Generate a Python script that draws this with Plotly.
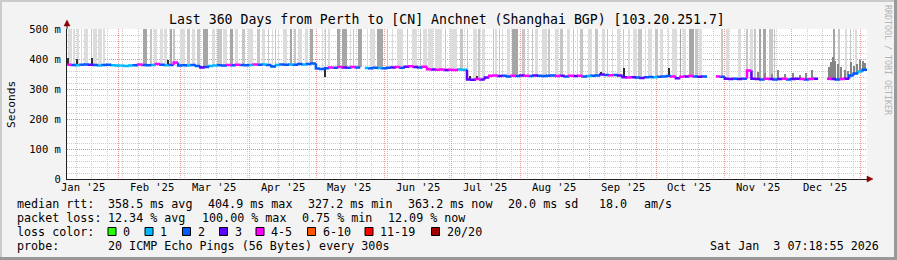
import plotly.graph_objects as go
from datetime import datetime, timedelta

# ---------------- data ----------------
title_text = "Last 360 Days from Perth to [CN] Anchnet (Shanghai BGP) [103.20.251.7]"
month_labels = ["Jan '25", "Feb '25", "Mar '25", "Apr '25", "May '25", "Jun '25",
                "Jul '25", "Aug '25", "Sep '25", "Oct '25", "Nov '25", "Dec '25"]
month_starts = ["2025-01-01", "2025-02-01", "2025-03-01", "2025-04-01", "2025-05-01", "2025-06-01",
                "2025-07-01", "2025-08-01", "2025-09-01", "2025-10-01", "2025-11-01", "2025-12-01"]
y_tick_values = [0, 100, 200, 300, 400, 500]
y_tick_labels = ["0", "100 m", "200 m", "300 m", "400 m", "500 m"]

# median rtt (ms) per 2-day bin, 180 bins (None = no data)
median_ms = [
    381, 380, 379, 381, 382, 381, 380, 378, 380, 381,
    379, 378, 378, 377, 378, 379, 382, 380, 379, 380,
    383, 381, 379, 380, 388, 378, 379, 378, 380, 377,
    372, 373, 377, 378, 379, 378, 380, 379, 381, 380,
    379, 380, 382, 381, 382, 380, 375, 380, 382, 381,
    382, 381, 383, 382, 383, 385, 368, 367, 369, 372,
    371, 373, 372, 371, 373, 372, None, 370, 369, 371,
    370, 369, 371, 372, 373, 371, 374, 376, 373, 372,
    374, 366, 365, 364, 365, 363, 364, 363, 365, 364,
    332, 331, 333, 332, 338, 344, 345, 343, 344, 342,
    344, 343, 345, 344, 343, 345, 344, 343, 344, 345,
    343, 344, 342, 344, 343, 344, 342, 343, 344, 345,
    348, 347, 346, 347, 345, 339, 338, 339, 338, 337,
    339, 340, 339, 341, 342, 343, 342, 336, 341, 342,
    343, 342, 341, 342, None, None, 342, 341, 334, 333,
    334, 333, 334, 362, 334, 333, 332, 334, 333, 332,
    333, 334, 332, 333, 334, 333, 332, 333, 334, None,
    None, 334, 333, 332, 333, 334, 345, 352, 358, 364,
]
# loss colour index per bin (0:0, 1:1, 2:2, 3:3, 4:4-5, 5:6-10, 6:11-19, 7:20/20)
loss_code = [
    4, 2, 1, 2, 2, 3, 2, 1, 2, 2,
    1, 1, 1, 1, 1, 2, 4, 2, 2, 1,
    4, 2, 1, 2, 4, 2, 2, 1, 2, 2,
    3, 2, 1, 1, 2, 2, 4, 2, 4, 2,
    2, 1, 4, 2, 1, 2, 2, 1, 2, 2,
    1, 2, 2, 1, 2, 2, 2, 2, 2, 4,
    2, 4, 3, 2, 4, 2, 2, 1, 2, 2,
    1, 2, 2, 3, 4, 2, 3, 4, 3, 2,
    4, 4, 3, 4, 4, 3, 4, 4, 1, 1,
    3, 3, 4, 3, 3, 4, 4, 3, 2, 2,
    4, 2, 3, 4, 2, 3, 2, 2, 2, 2,
    4, 3, 2, 4, 3, 4, 2, 1, 2, 2,
    3, 2, 4, 2, 3, 3, 4, 3, 2, 3,
    2, 2, 1, 2, 2, 2, 4, 3, 4, 3,
    4, 2, 3, 2, 2, 2, 4, 2, 3, 3,
    2, 3, 2, 4, 3, 3, 2, 4, 3, 2,
    3, 4, 2, 3, 3, 4, 2, 4, 3, 2,
    2, 4, 3, 2, 4, 3, 2, 2, 1, 2,
]
loss_colors = ["#26ff00", "#00b8ff", "#0059ff", "#5e00ff", "#ff00ff", "#ff5500", "#ff0000", "#a00000"]
loss_labels = ["0", "1", "2", "3", "4-5", "6-10", "11-19", "20/20"]

# smoke reaching above 500 ms: start day, end day, shade (1 light .. 3 dark)
smoke_start = [0.45, 2.7, 4.5, 6.3, 7.65, 10.8, 11.7, 14.0, 16.2,
               34.2, 37.4, 39.2, 41.9, 43.65, 46.35, 47.7,
               50.9, 54.0, 56.25, 58.5, 61.2, 65.25, 67.5, 70.2, 73.35, 75.6, 78.75, 81.45, 85.5,
               87.75, 90.45, 92.25, 93.6, 94.95, 97.2, 100.35, 102.6, 104.0, 107.1, 109.35, 114.75, 116.1,
               117.45, 121.5, 123.75, 127.35, 128.7, 130.95, 135.0, 136.35, 139.5, 144.0, 146.25, 148.5,
               153.0, 155.25, 158.85, 160.2, 162.45, 165.6, 170.1, 172.35, 176.85,
               180.0, 182.7, 184.95, 186.75, 191.7, 193.0, 194.4, 195.75, 198.0, 200.25, 204.75, 207.45,
               209.25, 210.6, 213.75, 216.45, 219.6, 221.85, 225.0, 227.7, 229.5, 230.85, 234.45, 237.6,
               240.75, 243.0, 245.25, 247.5, 250.2, 252.45, 254.7, 257.0, 260.1, 261.45, 264.6, 266.85,
               270.45, 272.25, 275.85, 277.2, 279.9, 283.0, 284.4, 294.3, 296.5, 301.95, 305.55, 307.35,
               309.6, 311.4, 313.2, 315.9, 318.15, 344.7, 347.0, 350.1, 352.35, 354.6]
smoke_end = [2.25, 3.6, 5.0, 6.75, 9.45, 11.25, 13.5, 15.75, 17.1,
             36.0, 38.25, 40.5, 43.2, 45.0, 47.25, 48.6,
             53.1, 55.35, 57.6, 59.85, 63.45, 66.6, 69.75, 72.0, 74.7, 76.95, 80.1, 83.7, 86.85,
             89.1, 90.9, 92.7, 94.05, 95.4, 99.0, 101.25, 103.0, 105.75, 108.45, 110.7, 115.2, 116.55,
             118.35, 122.85, 126.0, 127.8, 129.15, 132.75, 135.45, 138.6, 142.2, 144.45, 146.7, 151.2,
             153.45, 157.5, 159.3, 162.0, 164.7, 168.75, 170.55, 175.5, 178.2,
             180.45, 184.5, 185.85, 188.1, 192.15, 193.5, 194.85, 196.2, 199.35, 202.95, 206.1, 207.9,
             209.7, 211.95, 216.0, 217.35, 220.95, 223.2, 226.35, 228.15, 229.95, 232.2, 236.25, 238.95,
             242.1, 243.45, 245.7, 248.85, 250.65, 253.35, 256.5, 258.75, 260.55, 263.25, 266.0, 268.2,
             270.9, 274.5, 276.3, 278.55, 282.15, 283.85, 285.75, 295.2, 297.9, 303.3, 306.45, 308.7,
             310.0, 312.3, 314.55, 317.7, 318.6, 345.6, 347.85, 351.0, 352.8, 355.5]
smoke_shade = [1, 1, 1, 1, 1, 2, 1, 1, 1,
               3, 2, 1, 1, 1, 3, 2,
               1, 2, 1, 2, 3, 1, 2, 1, 3, 1, 2, 1, 2,
               1, 2, 1, 2, 1, 1, 3, 2, 1, 1, 3, 1, 2,
               1, 3, 3, 1, 2, 3, 1, 1, 3, 2, 1, 1,
               2, 1, 2, 1, 1, 1, 2, 1, 2,
               2, 1, 2, 1, 2, 1, 2, 1, 1, 3, 2, 1,
               2, 1, 1, 2, 1, 2, 1, 2, 1, 2, 1, 2,
               1, 2, 1, 1, 2, 1, 1, 2, 1, 1, 2, 1,
               1, 1, 3, 1, 3, 2, 1, 2, 1, 1, 2, 1,
               2, 3, 3, 2, 2, 3, 2, 1, 2, 1]
smoke_colors = {1: "#dcdcdc", 2: "#c6c6c6", 3: "#a6a6a6"}

# dense smoke spikes near the median line: day, low ms, high ms
spike_day = [0.4, 4.5, 11.3, 45.5, 116.0, 181.5, 184.5, 240.5, 250.6, 270.7]
spike_low = [381, 381, 381, 379, 340, 332, 332, 348, 338, 343]
spike_high = [402, 400, 405, 398, 368, 345, 344, 358, 370, 370]

# Nov/Dec smoke just above the median: day, top ms
near_smoke_day = [311.0, 314.1, 317.3, 320.0, 323.1, 326.7, 329.9, 332.6, 335.3,
                  342.9, 343.8, 344.7, 345.6, 346.9, 348.3, 350.1, 351.5,
                  352.8, 354.2, 355.5, 356.9, 358.2, 359.1]
near_smoke_top = [357, 352, 350, 363, 350, 353, 348, 352, 363,
                  375, 390, 407, 395, 384, 372, 365, 360,
                  390, 378, 383, 396, 392, 388]

stats_rtt = ["358.5 ms avg", "404.9 ms max", "327.2 ms min", "363.2 ms now", "20.0 ms sd", "18.0", "am/s"]
stats_loss = ["12.34 % avg", "100.00 % max", "0.75 % min", "12.09 % now"]
probe_text = "20 ICMP Echo Pings (56 Bytes) every 300s"
stamp_text = "Sat Jan  3 07:18:55 2026"

# ---------------- layout helpers ----------------
W, H = 897, 260
L, R, T, B = 67, 30, 29, 81
PW, PH = W - L - R, H - T - B
FONT = "DejaVu Sans Mono"

axis_start = datetime(2025, 1, 8, 21, 40)
axis_end = axis_start + timedelta(days=360)


def px_x(px):
    return (px - L) / PW


def px_y(py):
    return (H - B - py) / PH


def d2t(d):
    return axis_start + timedelta(days=d)


def nb(s):
    return s.replace(" ", "\u00a0")


def med_at(day):
    i = min(max(int(day // 2), 0), len(median_ms) - 1)
    return median_ms[i]


DAY_MS = 86400000
fig = go.Figure()

# smoke bars up to the top
sx, sb, sy, sw, sc = [], [], [], [], []
for a, b, s in zip(smoke_start, smoke_end, smoke_shade):
    base = med_at((a + b) / 2)
    if base is None:
        continue
    sx.append(d2t((a + b) / 2))
    sb.append(base)
    sy.append(500 - base)
    sw.append(max(b - a, 0.45) * DAY_MS)
    sc.append(smoke_colors[s])
fig.add_trace(go.Bar(x=sx, y=sy, base=sb, width=sw, marker=dict(color=sc, line=dict(width=0)),
                     hoverinfo="skip", showlegend=False))

# near-line smoke
nx, nbase, ny = [], [], []
for d, top in zip(near_smoke_day, near_smoke_top):
    base = med_at(d)
    if base is None:
        continue
    nx.append(d2t(d))
    nbase.append(base)
    ny.append(top - base)
fig.add_trace(go.Bar(x=nx, y=ny, base=nbase, width=0.9 * DAY_MS,
                     marker=dict(color="#858585", line=dict(width=0)), hoverinfo="skip", showlegend=False))

# dark spikes
fig.add_trace(go.Bar(x=[d2t(d) for d in spike_day], y=[h - l for l, h in zip(spike_low, spike_high)],
                     base=spike_low, width=0.5 * DAY_MS,
                     marker=dict(color="#303030", line=dict(width=0)), hoverinfo="skip", showlegend=False))

# median line, coloured by loss
segs = {c: ([], []) for c in range(len(loss_colors))}
prev = None
for i, (v, c) in enumerate(zip(median_ms, loss_code)):
    if v is None:
        prev = None
        continue
    t0, t1 = d2t(2 * i), d2t(2 * i + 2)
    xs, ys = segs[c]
    if prev is not None:
        xs += [t0, t0, t1, None]
        ys += [prev, v, v, None]
    else:
        xs += [t0, t1, None]
        ys += [v, v, None]
    prev = v
for c, (xs, ys) in segs.items():
    if xs:
        fig.add_trace(go.Scatter(x=xs, y=ys, mode="lines", line=dict(color=loss_colors[c], width=2.5),
                                 hoverinfo="skip", showlegend=False, connectgaps=False))

ann = []
shapes = []


def text(x, y, s, size=11.7, anchor="left", color="#000000", angle=0):
    ann.append(dict(x=px_x(x), y=px_y(y), xref="paper", yref="paper", text=nb(s), showarrow=False,
                    xanchor=anchor, yanchor="middle", textangle=angle, borderpad=0,
                    font=dict(family=FONT, size=size, color=color)))


# title
text(447, 19, title_text, size=13.2, anchor="center")
# y-axis title
text(11, 104, "Seconds", size=11.2, anchor="center", angle=-90)
# watermark
text(888, 60, "RRDTOOL / TOBI OETIKER", size=8.3, anchor="center", color="#b4b4b4", angle=90)

# month labels
for lab, ms in zip(month_labels, month_starts):
    mid = datetime.fromisoformat(ms) + timedelta(days=15)
    ann.append(dict(x=mid.isoformat(), y=px_y(187), xref="x", yref="paper", text=nb(lab), showarrow=False,
                    xanchor="center", yanchor="middle", borderpad=0,
                    font=dict(family=FONT, size=10.5, color="#000000")))

# legend rows
text(16, 204, "median rtt:")
for s, x in zip(stats_rtt, [107, 207, 307, 407, 507, 598, 643]):
    text(x, 204, s)
text(16, 218, "packet loss:")
for s, x in zip(stats_loss, [107, 200.5, 300.5, 386.5]):
    text(x, 218, s)
text(16, 232, "loss color:")
box_x = [108, 145, 182.5, 219.5, 256, 307.5, 365, 431.5]
for col, lab, bx in zip(loss_colors, loss_labels, box_x):
    shapes.append(dict(type="rect", xref="paper", yref="paper", x0=px_x(bx), x1=px_x(bx + 8),
                       y0=px_y(235.5), y1=px_y(227.5), fillcolor=col, line=dict(color="#000000", width=1)))
    text(bx + 14, 232, lab)
text(16, 246, "probe:")
text(107, 246, probe_text)
text(880, 246, stamp_text, anchor="right")

# frame shading
shapes += [
    dict(type="rect", xref="paper", yref="paper", x0=px_x(0), x1=px_x(W), y0=px_y(0), y1=px_y(2),
         fillcolor="#cbcbcb", line=dict(width=0), layer="below"),
    dict(type="rect", xref="paper", yref="paper", x0=px_x(0), x1=px_x(2), y0=px_y(0), y1=px_y(H),
         fillcolor="#cbcbcb", line=dict(width=0), layer="below"),
    dict(type="rect", xref="paper", yref="paper", x0=px_x(0), x1=px_x(W), y0=px_y(257), y1=px_y(H),
         fillcolor="#999999", line=dict(width=0), layer="below"),
    dict(type="rect", xref="paper", yref="paper", x0=px_x(894), x1=px_x(W), y0=px_y(0), y1=px_y(H),
         fillcolor="#999999", line=dict(width=0), layer="below"),
]
# axis extensions and arrows
shapes += [
    dict(type="line", xref="paper", yref="paper", x0=px_x(67), x1=px_x(67), y0=px_y(29), y1=px_y(24),
         line=dict(color="#202020", width=1)),
    dict(type="path", xref="paper", yref="paper",
         path=f"M {px_x(64)} {px_y(26)} L {px_x(70)} {px_y(26)} L {px_x(67)} {px_y(20)} Z",
         fillcolor="#8b0000", line=dict(color="#8b0000", width=0.5)),
    dict(type="line", xref="paper", yref="paper", x0=px_x(867), x1=px_x(869), y0=px_y(179), y1=px_y(179),
         line=dict(color="#202020", width=1)),
    dict(type="path", xref="paper", yref="paper",
         path=f"M {px_x(867)} {px_y(176)} L {px_x(867)} {px_y(182)} L {px_x(873)} {px_y(179)} Z",
         fillcolor="#8b0000", line=dict(color="#8b0000", width=0.5)),
]

fig.update_layout(
    width=W, height=H, margin=dict(l=L, r=R, t=T, b=B, pad=0),
    paper_bgcolor="#f3f3f3", plot_bgcolor="#ffffff",
    barmode="overlay", bargap=0, showlegend=False,
    annotations=ann, shapes=shapes,
    xaxis=dict(type="date", range=[axis_start, axis_end], showgrid=True,
               gridcolor="rgba(240,110,110,0.7)", griddash="1px,1px", gridwidth=1,
               tick0="2025-01-01", dtick="M1", showticklabels=False, ticks="",
               minor=dict(tick0="2025-01-06", dtick=7 * DAY_MS, showgrid=True,
                          gridcolor="#cccccc", griddash="1px,1px", gridwidth=1),
               showline=True, linecolor="#202020", linewidth=1, zeroline=False, fixedrange=True),
    yaxis=dict(range=[0, 500], tickmode="array", tickvals=y_tick_values, ticktext=y_tick_labels,
               showgrid=True, gridcolor="rgba(240,110,110,0.7)", griddash="1px,1px", gridwidth=1,
               minor=dict(tickmode="linear", tick0=0, dtick=20, showgrid=True,
                          gridcolor="#cccccc", griddash="1px,1px", gridwidth=1),
               ticks="outside", ticklen=3, tickcolor="rgba(0,0,0,0)",
               tickfont=dict(family=FONT, size=10.5, color="#000000"),
               showline=True, linecolor="#202020", linewidth=1, zeroline=False, fixedrange=True),
)

fig.write_html("out.html")
